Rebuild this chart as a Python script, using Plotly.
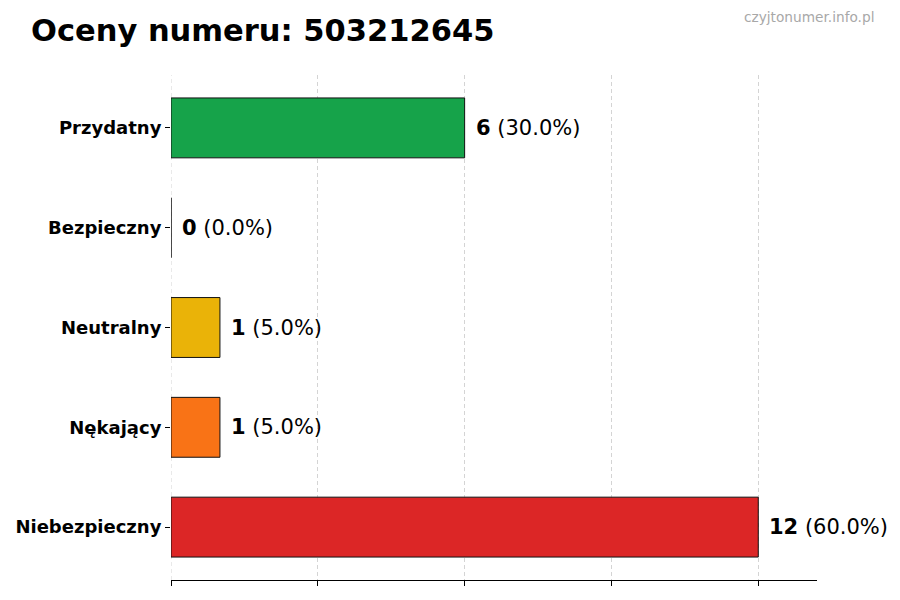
import plotly.graph_objects as go

categories = ["Przydatny", "Bezpieczny", "Neutralny", "Nękający", "Niebezpieczny"]
counts = [6, 0, 1, 1, 12]
colors = ["#16a34a", "#3b82f6", "#eab308", "#f97316", "#dc2626"]
x_ticks = [0, 3, 6, 9, 12]
title_text = "Oceny numeru: 503212645"
watermark = "czyjtonumer.info.pl"

total = sum(counts)
ypos = list(range(len(categories) - 1, -1, -1))

# page offset (browser body margin) compensation
OX, OY = 8, 8
L, R, T, B = 171 - OX, 900 - 817 + OX, 75 - OY, 600 - 580 + OY
PW, PH = 900 - L - R, 600 - T - B

fig = go.Figure()
fig.add_trace(go.Bar(
    x=counts, y=ypos, orientation="h", width=0.6,
    marker=dict(color=colors, line=dict(color="#111111", width=1)),
    hoverinfo="skip",
))

for c, yp in zip(counts, ypos):
    pct = 100.0 * c / total if total else 0
    fig.add_annotation(
        x=c, y=yp, xref="x", yref="y", xanchor="left", yanchor="middle",
        xshift=9, showarrow=False,
        text=f"<b>{c}</b> ({pct:.1f}%)",
        font=dict(family="DejaVu Sans", size=21, color="black"),
    )

fig.add_annotation(
    x=(29 - OX - L) / PW, y=1 + (T - (31 - OY)) / PH, xref="paper", yref="paper",
    showarrow=False, text=f"<b>{title_text}</b>", xanchor="left", yanchor="middle",
    font=dict(family="DejaVu Sans", size=30.5, color="black"),
)
fig.add_annotation(
    x=(876 - OX - L) / PW, y=1 + (T - (17 - OY)) / PH, xref="paper", yref="paper",
    showarrow=False, text=watermark, xanchor="right", yanchor="middle",
    font=dict(family="DejaVu Sans", size=13.7, color="#a8a8a8"),
)

fig.add_shape(
    type="line", x0=0, x1=0, y0=0, y1=1, xref="x", yref="paper",
    line=dict(color="#d4d4d4", width=1, dash="4px,3px"), layer="below",
)

fig.update_layout(
    width=900, height=600,
    margin=dict(l=L, r=R, t=T, b=B, autoexpand=False),
    plot_bgcolor="white", paper_bgcolor="white",
    showlegend=False,
    font=dict(family="DejaVu Sans", color="black"),
)

fig.update_xaxes(
    range=[0, 13.2], tickvals=x_ticks, showticklabels=False,
    ticks="outside", ticklen=5, tickcolor="black", automargin=False,
    showgrid=True, gridcolor="#d4d4d4", griddash="4px,3px", gridwidth=1,
    showline=True, linecolor="black", linewidth=1, zeroline=False,
)
fig.update_yaxes(
    range=[-0.53, 4.53], tickvals=ypos, ticktext=[f"<b>{c}</b>" for c in categories],
    ticks="outside", ticklen=5, tickcolor="black", automargin=False,
    tickfont=dict(family="DejaVu Sans", size=18, color="black"),
    showgrid=False, showline=False, zeroline=False,
)

fig.write_html("out.html")
